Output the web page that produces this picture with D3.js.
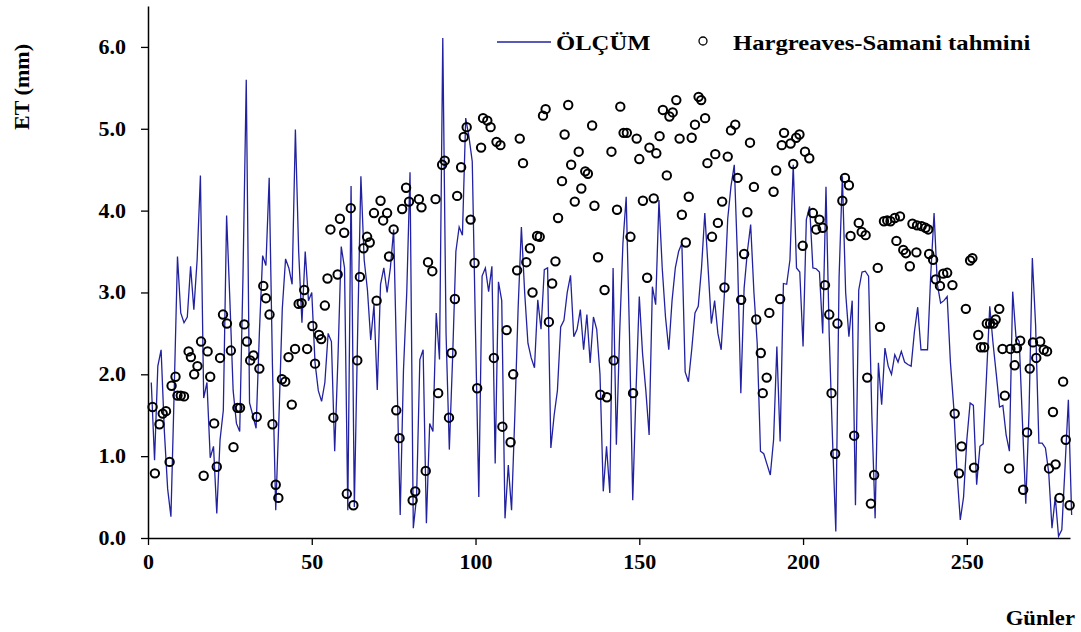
<!DOCTYPE html>
<html>
<head>
<meta charset="utf-8">
<script src="https://cdn.jsdelivr.net/npm/d3@7"></script>
<style>
  body { margin: 0; background: #fff; }
  text { font-family: "Liberation Serif", "Times New Roman", serif; font-weight: bold; }
</style>
</head>
<body>
<svg id="chart"></svg>
<script>
// measured ET (ÖLÇÜM), one value per day starting at day 1
const measured = [
  1.9, 0.95, 2.1, 2.3, 1.3, 0.6, 0.26, 1.8, 3.44, 2.75,
  2.63, 2.7, 3.32, 2.79, 3.4, 4.43, 1.71, 1.9, 0.98, 1.12,
  0.3, 1.2, 1.56, 3.94, 2.9, 1.8, 1.4, 1.3, 3.2, 5.6,
  1.65, 1.5, 1.34, 2.5, 3.45, 3.33, 4.4, 2.1, 0.34, 1.5,
  2.8, 3.41, 3.3, 3.1, 4.99, 3.5, 2.63, 3.5, 2.9, 3.0,
  2.14, 1.8, 1.67, 1.9, 2.5, 2.4, 1.06, 2.2, 3.56, 3.3,
  0.34, 4.3, 0.38, 2.5, 4.42, 3.4, 3.03, 2.42, 2.85, 1.81,
  3.1, 3.3, 3.0, 3.3, 3.77, 2.0, 0.28, 2.05, 3.0, 4.47,
  0.12, 0.5, 2.18, 2.3, 0.18, 1.4, 1.3, 2.75, 2.18, 6.11,
  2.5, 1.08, 2.2, 3.5, 3.8, 3.7, 5.13, 4.9, 4.6, 2.5,
  0.5, 3.2, 3.3, 3.01, 3.32, 0.91, 3.13, 2.9, 0.24, 0.89,
  0.34, 1.5, 2.8, 3.8, 3.0, 2.38, 2.2, 2.08, 2.91, 2.55,
  3.28, 3.3, 1.1, 1.5, 1.8, 2.58, 2.66, 3.0, 3.21, 2.46,
  2.55, 2.79, 2.3, 2.73, 2.14, 2.7, 2.55, 2.0, 0.57, 1.12,
  0.55, 3.3, 1.14, 2.5, 3.6, 4.17, 2.5, 0.46, 1.8, 2.95,
  2.25, 1.8, 1.26, 3.07, 2.85, 4.13, 3.3, 2.7, 2.3, 2.9,
  3.3, 3.5, 3.6, 2.03, 1.91, 2.3, 2.75, 2.83, 3.3, 3.97,
  3.3, 2.62, 2.9, 2.5, 2.3, 3.0, 3.9, 4.3, 4.56, 3.4,
  1.77, 3.05, 3.5, 3.83, 3.0, 2.38, 1.06, 1.03, 0.9, 0.77,
  1.2, 2.34, 1.18, 3.11, 3.1, 3.4, 4.56, 3.3, 3.25, 2.34,
  3.89, 4.05, 3.3, 3.29, 3.25, 2.5, 4.29, 2.46, 1.2, 0.08,
  3.19, 4.42, 3.0, 2.46, 2.9, 0.4, 3.03, 3.25, 3.26, 3.2,
  1.5, 0.24, 2.14, 1.63, 2.32, 2.1, 2.0, 2.24, 2.15, 2.28,
  2.15, 2.12, 2.1, 2.52, 2.82, 2.3, 2.3, 2.3, 3.23, 3.97,
  3.1, 2.87, 2.9, 2.95, 2.14, 1.6, 0.8, 0.22, 0.5, 1.2,
  1.65, 1.62, 0.65, 1.12, 1.15, 1.97, 2.83, 2.38, 2.0, 1.6,
  1.62, 1.26, 1.06, 3.01, 2.46, 2.4, 1.4, 0.42, 1.55, 3.42,
  2.6, 1.16, 1.16, 1.1, 0.8, 0.12, 0.5, 0.02, 0.1, 0.88,
  1.69, 0.28
];

// Hargreaves-Samani estimate: day positions and values as read
const hsDays = [
  1.4, 2.1, 3.5, 4.5, 5.5, 6.6, 7.2, 8.4, 9.0, 10, 11, 12.4, 13.1, 14.1, 15.1, 16.2, 17, 18.2, 19, 20.2,
  21, 22, 22.9, 24.1, 25.3, 26.1, 27.3, 28.1, 29.4, 30.2, 31.2, 32.2, 33.2, 34, 35.2, 36, 37.1, 38, 39, 39.8,
  40.9, 41.9, 42.9, 43.9, 44.9, 46, 46.9, 47.7, 48.6, 50.2, 51, 52.2, 52.9, 54, 54.8, 55.7, 56.6, 57.9, 58.6, 59.9,
  60.7, 61.9, 62.7, 63.9, 64.7, 65.8, 66.9, 67.7, 69, 69.8, 71, 71.8, 73, 73.6, 75, 75.8, 76.8, 77.6, 78.8, 79.7,
  80.8, 81.6, 82.7, 83.5, 84.8, 85.5, 86.8, 87.8, 88.6, 89.8, 90.6, 91.9, 92.7, 93.7, 94.4, 95.6, 96.4, 97.3, 98.5, 99.7,
  100.5, 101.7, 102.3, 103.6, 104.6, 105.6, 106.4, 107.6, 108.2, 109.5, 110.7, 111.5, 112.7, 113.5, 114.5, 115.5, 116.6, 117.4, 118.8, 119.6,
  120.6, 121.4, 122.4, 123.4, 124.4, 125.2, 126.4, 127.2, 128.3, 129.2, 130.3, 131.5, 132.3, 133.5, 134.3, 135.6, 136.3, 137.4, 138.1, 139.4,
  140.1, 141.5, 142.2, 143.2, 144.2, 145.2, 146.2, 147.3, 148.1, 149.2, 150, 151.1, 152.4, 153.1, 154.4, 155.2, 156.2, 157.2, 158.4, 159.2,
  160.2, 161.3, 162.3, 163, 164.2, 165.1, 166, 167, 168.1, 168.9, 170.1, 170.8, 172.2, 173.2, 174, 175.3, 176, 177, 178, 179.3,
  180, 181.1, 182, 183, 183.8, 185, 185.7, 187.1, 187.7, 188.9, 189.7, 191, 191.8, 193, 193.5, 194.2, 196.2, 197, 197.9, 198.9,
  199.9, 200.6, 201.9, 203, 204, 205, 206, 206.7, 208, 208.7, 209.8, 210.5, 212, 212.8, 214, 214.5, 215.6, 217, 217.9, 219.1,
  219.6, 220.7, 221.7, 222.8, 223.5, 224.7, 225.7, 226.7, 228, 228.5, 229.6, 230.6, 231.4, 232.6, 233.4, 234.6, 234.8, 236.2, 237.4, 238.2,
  238.5, 239.7, 240.5, 241.8, 242.8, 244, 245.6, 246.3, 247.6, 248.4, 249.7, 251, 251.7, 252.2, 253.5, 254.3, 255.3, 256.1, 257.1, 258.1,
  258.8, 259.9, 260.9, 261.6, 262.9, 263.3, 264.6, 265.3, 266.3, 267.2, 268.4, 269.2, 270.2, 271.2, 272.4, 273.5, 274.5, 275.1, 276.3, 277.1,
  278.3, 279.4, 280.2, 281.4
];
const hsValues = [
  1.60, 0.79, 1.39, 1.52, 1.55, 0.93, 1.86, 1.97, 1.74, 1.74, 1.73, 2.28, 2.21, 2.0, 2.1, 2.4, 0.76, 2.28, 1.97, 1.4,
  0.87, 2.2, 2.73, 2.62, 2.29, 1.11, 1.59, 1.59, 2.61, 2.4, 2.17, 2.23, 1.48, 2.07, 3.08, 2.93, 2.73, 1.39, 0.65, 0.49,
  1.94, 1.91, 2.21, 1.63, 2.31, 2.86, 2.87, 3.03, 2.31, 2.59, 2.13, 2.48, 2.43, 2.84, 3.17, 3.77, 1.47, 3.22, 3.9, 3.73,
  0.54, 4.03, 0.40, 2.17, 3.19, 3.54, 3.68, 3.61, 3.97, 2.9, 4.12, 3.88, 3.97, 3.44, 3.77, 1.56, 1.22, 4.02, 4.28, 4.11,
  0.46, 0.57, 4.14, 4.04, 0.82, 3.37, 3.26, 4.14, 1.77, 4.56, 4.61, 1.47, 2.26, 2.92, 4.18, 4.53, 4.9, 5.02, 3.89, 3.36,
  1.83, 4.77, 5.13, 5.1, 5.02, 2.2, 4.84, 4.8, 1.36, 2.54, 1.17, 2.0, 3.27, 4.88, 4.58, 3.37, 3.54, 3.0, 3.69, 3.68,
  5.16, 5.24, 2.64, 3.11, 3.38, 3.91, 4.36, 4.93, 5.29, 4.56, 4.11, 4.72, 4.27, 4.48, 4.45, 5.04, 4.06, 3.43, 1.75, 3.03,
  1.72, 4.72, 2.17, 4.01, 5.27, 4.95, 4.95, 3.68, 1.77, 4.88, 4.63, 4.12, 3.18, 4.77, 4.15, 4.7, 4.91, 5.23, 4.43, 5.15,
  5.2, 5.35, 4.88, 3.95, 3.61, 4.17, 4.89, 5.05, 5.39, 5.35, 5.13, 4.58, 3.68, 4.69, 3.85, 4.11, 3.06, 4.66, 4.98, 5.05,
  4.4, 2.91, 3.47, 3.98, 4.83, 4.29, 2.67, 2.26, 1.77, 1.96, 2.75, 4.23, 4.49, 2.92, 4.8, 4.95, 4.82, 4.57, 4.89, 4.93,
  3.57, 4.72, 4.64, 3.97, 3.77, 3.89, 3.79, 3.09, 2.73, 1.77, 1.03, 2.62, 4.12, 4.4, 4.31, 3.69, 1.25, 3.85, 3.74, 3.7,
  1.96, 0.42, 0.77, 3.3, 2.58, 3.87, 3.88, 3.87, 3.91, 3.63, 3.93, 3.52, 3.48, 3.32, 3.84, 3.49, 3.82, 3.81, 3.79, 3.77,
  3.47, 3.4, 3.16, 3.08, 3.23, 3.24, 3.09, 1.52, 0.79, 1.12, 2.8, 3.39, 3.42, 0.86, 2.48, 2.33, 2.33, 2.62, 2.62, 2.62,
  2.67, 2.8, 2.31, 1.74, 0.85, 2.31, 2.11, 2.32, 2.41, 0.59, 1.29, 2.07, 2.39, 2.2, 2.4, 2.3, 2.28, 0.85, 1.54, 0.9,
  0.49, 1.91, 1.2, 0.4
];

const xTicks = [0, 50, 100, 150, 200, 250];
const yTicks = [0, 1, 2, 3, 4, 5, 6];
const seriesNames = ["ÖLÇÜM", "Hargreaves-Samani tahmini"];

const width = 1081, height = 632;
const svg = d3.select("#chart").attr("width", width).attr("height", height);

const x = d3.scaleLinear().domain([0, 281.5]).range([148, 1070]);
const y = d3.scaleLinear().domain([0, 6.5]).range([538, 6]);

// text in the original is a bit wider than Liberation Serif
function stretch(sel, k) {
  sel.each(function () {
    const w = this.getComputedTextLength();
    d3.select(this).attr("textLength", w * k).attr("lengthAdjust", "spacingAndGlyphs");
  });
}

// axes
const xAxis = svg.append("g")
  .attr("transform", "translate(0," + y(0) + ")")
  .call(d3.axisBottom(x).tickValues(xTicks).tickSize(7).tickSizeOuter(0).tickPadding(10));
const yAxis = svg.append("g")
  .attr("transform", "translate(" + x(0) + ",0)")
  .call(d3.axisLeft(y).tickValues(yTicks).tickSize(7).tickSizeOuter(0).tickPadding(15)
    .tickFormat(d3.format(".1f")));

[xAxis, yAxis].forEach(function (g) {
  g.select(".domain").attr("stroke", "#000").attr("stroke-width", 1.5);
  g.selectAll(".tick line").attr("stroke", "#000").attr("stroke-width", 1.3);
  g.selectAll(".tick text")
    .attr("fill", "#000")
    .style("font-family", "'Liberation Serif', serif")
    .style("font-weight", "bold")
    .style("font-size", "20px")
    .call(stretch, 1.1);
});

// measured line
const line = d3.line()
  .x(function (d, i) { return x(i + 1); })
  .y(function (d) { return y(d); });

svg.append("path")
  .datum(measured)
  .attr("fill", "none")
  .attr("stroke", "#2222a0")
  .attr("stroke-width", 1.3)
  .attr("d", line);

// estimate circles
svg.append("g")
  .selectAll("circle")
  .data(hsValues)
  .enter()
  .append("circle")
  .attr("cx", function (d, i) { return x(hsDays[i]); })
  .attr("cy", function (d) { return y(d); })
  .attr("r", 4.2)
  .attr("fill", "none")
  .attr("stroke", "#000")
  .attr("stroke-width", 2);

// axis titles
svg.append("text")
  .attr("transform", "translate(29,87) rotate(-90)")
  .attr("text-anchor", "middle")
  .style("font-size", "21px")
  .text("ET (mm)")
  .call(stretch, 1.05);

svg.append("text")
  .attr("x", 1075)
  .attr("y", 625)
  .attr("text-anchor", "end")
  .style("font-size", "21px")
  .text("Günler")
  .call(stretch, 1.08);

// legend
const legend = svg.append("g");
legend.append("line")
  .attr("x1", 497).attr("x2", 551)
  .attr("y1", 42).attr("y2", 42)
  .attr("stroke", "#2222a0")
  .attr("stroke-width", 1.3);
legend.append("text")
  .attr("x", 556).attr("y", 50)
  .style("font-size", "22px")
  .text(seriesNames[0])
  .call(stretch, 1.12);
legend.append("circle")
  .attr("cx", 703).attr("cy", 41)
  .attr("r", 4)
  .attr("fill", "none")
  .attr("stroke", "#000")
  .attr("stroke-width", 1.3);
legend.append("text")
  .attr("x", 733).attr("y", 50)
  .style("font-size", "22px")
  .text(seriesNames[1])
  .call(stretch, 1.12);
</script>
</body>
</html>
